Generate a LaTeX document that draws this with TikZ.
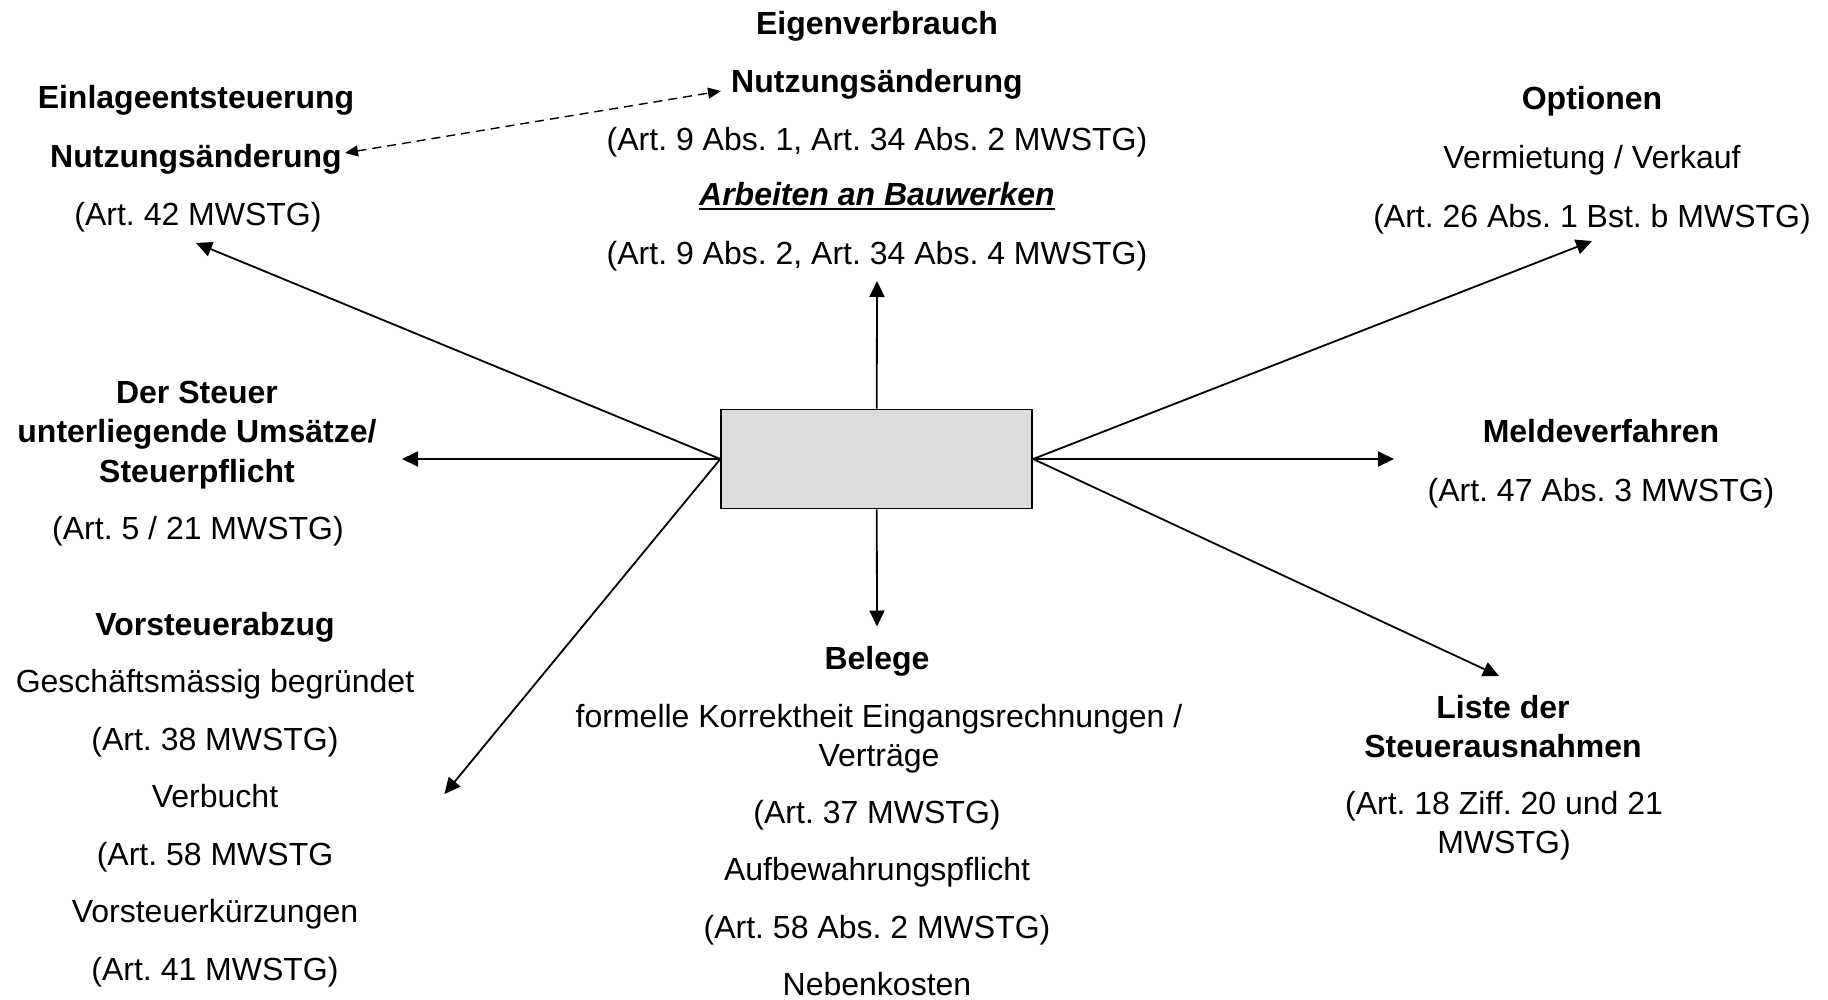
\documentclass[tikz,border=0pt]{standalone}
\usepackage{fontspec}
\setmainfont{Liberation Sans}
\usetikzlibrary{arrows.meta}
\definecolor{boxgray}{RGB}{220,220,220}
\newcommand\bigfs{\fontsize{32pt}{39.6pt}\selectfont\frenchspacing}
\newcommand\ulbox[1]{\setbox0\hbox{#1}\rlap{\copy0}\rule[-5pt]{\wd0}{2pt}}
\begin{document}
\begin{tikzpicture}[x=1pt,y=-1pt,
  txt/.style={anchor=base,align=center,inner sep=0pt,font=\bigfs},
  bld/.style={txt,font=\bigfs\bfseries},
  arr/.style={line width=1.8pt,-{Triangle[length=16pt,width=15pt]}},
  darr/.style={line width=1.4pt,dash pattern=on 9pt off 6pt,
    {Triangle[length=13pt,width=11pt]}-{Triangle[length=13pt,width=11pt]}},
  mainbox/.style={draw,line width=1.8pt,fill=boxgray,minimum width=311pt,
    minimum height=99pt,inner sep=0pt}]
\useasboundingbox (0,0) rectangle (1828,999);

% centre box
\node[mainbox] (box) at (876.75,459) {};

% top left
\node[bld] (ein1) at (196,108.5) {Einlageentsteuerung};
\node[bld] (ein2) at (196,167) {Nutzungsänderung};
\node[txt] (ein3) at (198,225) {(Art. 42 MWSTG)};

% top centre
\node[bld] (eig1) at (877,34) {Eigenverbrauch};
\node[bld] (eig2) at (877,92.5) {Nutzungsänderung};
\node[txt] (eig3) at (877,150.5) {(Art. 9 Abs. 1, Art. 34 Abs. 2 MWSTG)};
\node[txt] (eig4) at (877,205) {\bfseries\itshape\ulbox{Arbeiten an Bauwerken}};
\node[txt] (eig5) at (877,264) {(Art. 9 Abs. 2, Art. 34 Abs. 4 MWSTG)};

% top right
\node[bld] (opt1) at (1592,109) {Optionen};
\node[txt] (opt2) at (1592,168.5) {Vermietung / Verkauf};
\node[txt] (opt3) at (1592,227) {(Art. 26 Abs. 1 Bst. b MWSTG)};

% middle left (base anchor = baseline of last line)
\node[bld] (steu1) at (197,482.2) {Der Steuer\\unterliegende Umsätze/\\Steuerpflicht};
\node[txt] (steu2) at (198,539.5) {(Art. 5 / 21 MWSTG)};

% middle right
\node[bld] (mel1) at (1601,442.8) {Meldeverfahren};
\node[txt] (mel2) at (1601,501) {(Art. 47 Abs. 3 MWSTG)};

% bottom left
\node[bld] (vor1) at (215,635) {Vorsteuerabzug};
\node[txt] (vor2) at (215,692.5) {Geschäftsmässig begründet};
\node[txt] (vor3) at (215,750) {(Art. 38 MWSTG)};
\node[txt] (vor4) at (215,807.5) {Verbucht};
\node[txt] (vor5) at (215,865) {(Art. 58 MWSTG};
\node[txt] (vor6) at (215,922.5) {Vorsteuerkürzungen};
\node[txt] (vor7) at (215,980) {(Art. 41 MWSTG)};

% bottom centre
\node[bld] (bel1) at (877,669) {Belege};
\node[txt] (bel2) at (879,766.6) {formelle Korrektheit Eingangsrechnungen /\\Verträge};
\node[txt] (bel3) at (877,823) {(Art. 37 MWSTG)};
\node[txt] (bel4) at (877,880.5) {Aufbewahrungspflicht};
\node[txt] (bel5) at (877,938) {(Art. 58 Abs. 2 MWSTG)};
\node[txt] (bel6) at (877,995.5) {Nebenkosten};

% bottom right
\node[bld] (lis1) at (1503,757.6) {Liste der\\Steuerausnahmen};
\node[txt] (lis2) at (1504,853.6) {(Art. 18 Ziff. 20 und 21\\MWSTG)};

% arrow tips
\coordinate (tEin) at (196,243);
\coordinate (tSteu) at (402,459);
\coordinate (tVor) at (444.5,794);
\coordinate (tEig) at (877,281);
\coordinate (tBel) at (877,626.5);
\coordinate (tOpt) at (1592,241);
\coordinate (tMel) at (1394,459);
\coordinate (tLis) at (1499,676);
\coordinate (dL) at (345,153);
\coordinate (dR) at (721,91);

\draw[arr] (box.west) -- (tEin);
\draw[arr] (box.west) -- (tSteu);
\draw[arr] (box.west) -- (tVor);
\draw[arr] (box.north) -- (tEig);
\draw[arr] (box.south) -- (tBel);
\draw[arr] (box.east) -- (tOpt);
\draw[arr] (box.east) -- (tMel);
\draw[arr] (box.east) -- (tLis);
\draw[darr] (dL) -- (dR);
\end{tikzpicture}
\end{document}
